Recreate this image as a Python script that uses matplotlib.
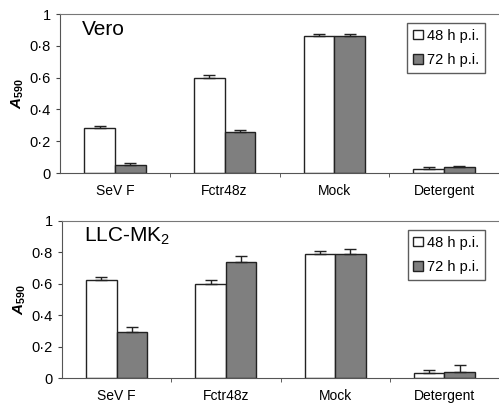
import matplotlib.pyplot as plt
import numpy as np

plt.rcParams['font.family'] = ['Liberation Sans', 'DejaVu Sans']
plt.rcParams['mathtext.fontset'] = 'custom'
plt.rcParams['mathtext.rm'] = 'Liberation Sans'
plt.rcParams['mathtext.it'] = 'Liberation Sans:italic'
plt.rcParams['mathtext.bf'] = 'Liberation Sans:bold'
plt.rcParams['mathtext.bfit'] = 'Liberation Sans:bold:italic'

categories = ["SeV F", "Fctr48z", "Mock", "Detergent"]
series_names = ["48 h p.i.", "72 h p.i."]

vero_48 = [0.28, 0.60, 0.86, 0.025]
vero_72 = [0.05, 0.255, 0.86, 0.035]
vero_48_err = [0.015, 0.015, 0.012, 0.012]
vero_72_err = [0.015, 0.015, 0.012, 0.012]

llc_48 = [0.625, 0.60, 0.79, 0.03]
llc_72 = [0.29, 0.74, 0.79, 0.04]
llc_48_err = [0.02, 0.025, 0.02, 0.02]
llc_72_err = [0.035, 0.04, 0.03, 0.04]

yticks = [0, 0.2, 0.4, 0.6, 0.8, 1]
ytick_labels = ["0", "0·2", "0·4", "0·6", "0·8", "1"]

fig = plt.figure(figsize=(4.99, 4.08), dpi=100)
W, H = 499.0, 408.0


def draw_panel(rect, v48, v72, e48, e72, title):
    ax = fig.add_axes(rect)
    x = np.arange(len(categories))
    w = 0.28
    ax.bar(x - w / 2, v48, w, color="white", edgecolor="#222222", linewidth=1.0,
           yerr=[np.zeros(len(e48)), e48], capsize=4,
           error_kw=dict(elinewidth=1, capthick=1, ecolor="#222222"), label=series_names[0])
    ax.bar(x + w / 2, v72, w, color="#7f7f7f", edgecolor="#222222", linewidth=1.0,
           yerr=[np.zeros(len(e72)), e72], capsize=4,
           error_kw=dict(elinewidth=1, capthick=1, ecolor="#222222"), label=series_names[1])
    ax.set_xlim(-0.5, 3.5)
    ax.set_ylim(0, 1)
    ax.set_yticks(yticks)
    ax.set_yticklabels(ytick_labels, fontsize=10.5)
    ax.set_xticks(x, minor=False)
    ax.set_xticklabels(categories, fontsize=10)
    ax.tick_params(axis="x", which="major", length=0, pad=8)
    ax.set_xticks([0.5, 1.5, 2.5], minor=True)
    ax.tick_params(axis="x", which="minor", length=3, color="#444444")
    ax.tick_params(axis="y", length=3, color="#444444")
    ax.spines["right"].set_visible(False)
    ax.spines["top"].set_color("#777777")
    ax.spines["left"].set_color("#555555")
    ax.spines["bottom"].set_color("#555555")
    ax.set_ylabel(r"$\boldsymbol{A}_{\mathbf{590}}$", fontsize=11, labelpad=3)
    ax.text(0.05, 0.9, title, transform=ax.transAxes, fontsize=15, va="center", ha="left")
    leg = ax.legend(loc="upper right", bbox_to_anchor=(0.985, 0.99), fontsize=10.5,
                    frameon=True, fancybox=False, handlelength=0.65, handleheight=0.65,
                    handletextpad=0.3, borderpad=0.4, labelspacing=0.7)
    leg.get_frame().set_edgecolor("#333333")
    leg.get_frame().set_linewidth(1.0)
    return ax


draw_panel([60 / W, 1 - 173 / H, 439 / W, 159 / H], vero_48, vero_72,
           vero_48_err, vero_72_err, "Vero")
draw_panel([62 / W, 1 - 378 / H, 437 / W, 157 / H], llc_48, llc_72,
           llc_48_err, llc_72_err, r"LLC-MK$_2$")

fig.savefig("out.png", dpi=100)
